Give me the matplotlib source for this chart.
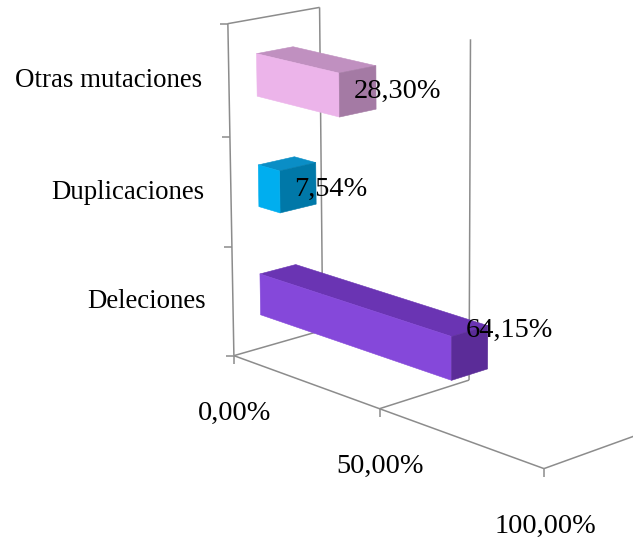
import matplotlib
matplotlib.use("Agg")
import matplotlib.pyplot as plt
from matplotlib.path import Path
from matplotlib.transforms import offset_copy
from mpl_toolkits.mplot3d.art3d import Poly3DCollection

# ---- data -------------------------------------------------------------
categories = ["Deleciones", "Duplicaciones", "Otras mutaciones"]
values = [0.6415, 0.0754, 0.2830]
value_labels = ["64,15%", "7,54%", "28,30%"]
tick_values = [0.0, 0.5, 1.0]
tick_labels = ["0,00%", "50,00%", "100,00%"]

# face colours per bar: front, top, end
front_colors = ["#8548DA", "#00AEEF", "#ECB4EA"]
top_colors = ["#6A34B3", "#0A8EC6", "#C090C0"]
end_colors = ["#5B2C98", "#0078A8", "#A47AA4"]

# ---- style ------------------------------------------------------------
FONT = "Liberation Serif"
FS_CAT = 19.4
FS_NUM = 20.4
GRID = "#8C8C8C"
LW = 1.1
# vertical nudge (pixels) of each value label from the bar end
label_dy = [22, -2, 0]

n = len(categories)
# the camera looks slightly downwards from above the floor; the box is made
# taller than the plotted categories so that its centre sits on the line of sight
z_top = 4.60
world = (0.1797, 0.0495, z_top * 0.04717)

fig = plt.figure(figsize=(6.33, 5.47), dpi=100)
ax = fig.add_axes([0.0946, 0.0930, 1.1232, 1.2998], projection="3d")
ax.set_box_aspect(world, zoom=1.0)
ax.set_proj_type("persp", focal_length=0.6862)
ax.view_init(elev=13.8, azim=-43.6)
ax.set_xlim(0, 1)
ax.set_ylim(0, 1)
ax.set_zlim(0, z_top)
ax.set_axis_off()
ax.patch.set_alpha(0)
ax.computed_zorder = False

line_kw = dict(color=GRID, lw=LW, zorder=1, solid_capstyle="butt")

# side wall outline (value = 0)
ax.plot([0, 0], [0, 0], [0, n], **line_kw)
ax.plot([0, 0], [0, 1], [n, n], **line_kw)
ax.plot([0, 0], [1, 1], [n, 0], **line_kw)
ax.plot([0, 0], [0, 1], [0, 0], **line_kw)
# value axis along the front of the floor
ax.plot([0, 1], [0, 0], [0, 0], **line_kw)
# gridlines on floor and back wall
for v in tick_values[1:]:
    ax.plot([v, v], [0, 1], [0, 0], **line_kw)
    ax.plot([v, v], [1, 1], [0, n], **line_kw)

# tick marks
left_tick = Path([[-1.0, 0.0], [0.0, 0.0]])
down_tick = Path([[0.0, 0.0], [0.0, -1.0]])
ax.plot([0] * (n + 1), [0] * (n + 1), list(range(n + 1)), ls="none",
        marker=left_tick, ms=12, mec=GRID, mew=LW, zorder=1)
ax.plot(tick_values, [0] * len(tick_values), [0] * len(tick_values), ls="none",
        marker=down_tick, ms=11, mec=GRID, mew=LW, zorder=1)

# bars
y0, y1 = 0.30, 0.70
half = 0.19
for i, (v, fc, tc, ec) in enumerate(zip(values, front_colors, top_colors, end_colors)):
    zc = i + 0.5
    z0, z1 = zc - half, zc + half
    front = [(0, y0, z0), (v, y0, z0), (v, y0, z1), (0, y0, z1)]
    top = [(0, y0, z1), (v, y0, z1), (v, y1, z1), (0, y1, z1)]
    end = [(v, y0, z0), (v, y1, z0), (v, y1, z1), (v, y0, z1)]
    cols = [fc, tc, ec]
    pc = Poly3DCollection([front, top, end], facecolors=cols, edgecolors=cols,
                          linewidths=0.4, zorder=2 + i)
    ax.add_collection3d(pc)

    lab_tr = offset_copy(ax.transData, fig=fig, x=-4, y=label_dy[i], units="dots")
    ax.text(v, (y0 + y1) / 2, zc, value_labels[i], transform=lab_tr,
            ha="left", va="center", fontsize=FS_NUM, family=FONT, zorder=10)

# category labels
cat_tr = offset_copy(ax.transData, fig=fig, x=-27, y=0, units="dots")
for i, c in enumerate(categories):
    ax.text(0, 0, i + 0.5, c, transform=cat_tr, ha="right", va="center",
            fontsize=FS_CAT, family=FONT, zorder=10)

# value tick labels
tick_tr = offset_copy(ax.transData, fig=fig, x=1, y=-58, units="dots")
for v, t in zip(tick_values, tick_labels):
    ax.text(v, 0, 0, t, transform=tick_tr, ha="center", va="center",
            fontsize=FS_NUM, family=FONT, zorder=10)

fig.savefig("out.png", dpi=100, facecolor="white")
